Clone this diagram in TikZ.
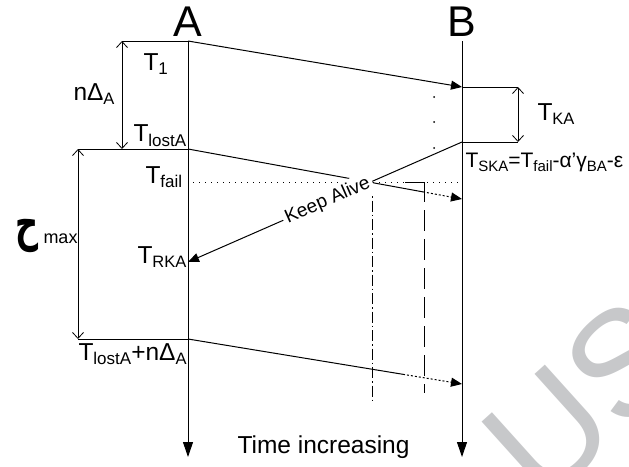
\documentclass[tikz,border=0pt]{standalone}
\usepackage{fontspec}
\setmainfont{Liberation Sans}
\newfontfamily\arabicfont[Script=Arabic]{DejaVu Sans}
\TeXXeTstate=1
\usetikzlibrary{arrows.meta,calc}

% lowered subscript in text mode
\newcommand\lowsub[2][17]{\raisebox{-4.5pt}{\fontsize{#1}{#1}\selectfont #2}}

\definecolor{wmgray}{RGB}{199,200,202}

\begin{document}
\begin{tikzpicture}[x=1pt,y=-1pt,line width=1pt,
  lbl/.style={inner sep=0pt,font=\fontsize{24.5}{24.5}\selectfont},
  msg/.style={-{Triangle[length=11pt,width=9pt]}},
  tail/.style={msg,dash pattern=on 2pt off 2pt},
  dim/.style={{Straight Barb[length=6pt,width=11pt]}-{Straight Barb[length=6pt,width=11pt]},line width=0.8pt},
  timeline/.style={-{Triangle[length=15pt,width=10pt]}},
  failline/.style={line width=0.8pt,dash pattern=on 1pt off 5pt},
  dashdotline/.style={line width=0.9pt,dash pattern=on 11pt off 3pt on 1.5pt off 3pt},
  longdash/.style={line width=0.9pt,dash pattern=on 21pt off 8pt}]
\useasboundingbox (0,0) rectangle (629,466);

% watermark
\begin{scope}
  \clip (0,0) rectangle (629,466);
  \node[wmgray,inner sep=0pt,anchor=base west,rotate=42,
        font=\fontsize{150}{150}\selectfont] (wm) at (542,507) {US};
\end{scope}

% time lines
\coordinate (A1) at (188,41);
\coordinate (A2) at (188,149);
\coordinate (ARKA) at (188,262);
\coordinate (A3) at (188,339);
\coordinate (Aend) at (188,457);
\coordinate (B0) at (462,41);
\coordinate (B1) at (462,87);
\coordinate (BSKA) at (462,142);
\coordinate (B2) at (462,199);
\coordinate (B3) at (462,384);
\coordinate (Bend) at (462,457);

\node[inner sep=0pt,anchor=base,font=\fontsize{43}{43}\selectfont] (labA) at (188,36) {A};
\node[inner sep=0pt,anchor=base,font=\fontsize{43}{43}\selectfont] (labB) at (462,36) {B};

\draw[timeline] (A1) -- (Aend);
\draw[timeline] (B0) -- (Bend);

% dimension marks on the A side
\coordinate (n1) at (122,41);
\coordinate (n2) at (122,149);
\coordinate (z1) at (78,149);
\coordinate (z2) at (78,339);
\draw (n1) -- (A1);
\draw (z1) -- (A2);
\draw (z2) -- (A3);
\draw[dim] (n1) -- (n2);
\draw[dim] (z1) -- (z2);

% dimension mark on the B side
\coordinate (k1) at (518,87);
\coordinate (k2) at (518,142);
\draw (B1) -- (k1);
\draw (BSKA) -- (k2);
\draw[dim] (k1) -- (k2);

% vertical dots between the messages
\foreach \yy [count=\i] in {97,122,148}
  \fill (434,\yy) circle (1pt) coordinate (dot\i);

% failure time
\coordinate (F0) at (193,182);
\coordinate (F1) at (462,182);
\draw[failline] (F0) -- (F1);

% windows
\coordinate (w1) at (372,182);
\coordinate (w1b) at (372,403);
\draw[dashdotline] (w1) -- (w1b);
\coordinate (w2a) at (405,182);
\coordinate (w2c) at (424,202);
\coordinate (w2d) at (424,210);
\coordinate (w2b) at (424,393);
\draw[line width=0.9pt] (w2a) -| (w2c);
\draw[longdash] (w2d) -- (w2b);

% messages
\draw[msg] (A1) -- (B1);
\coordinate (m2) at ($(A2)!0.8577!(B2)$);
\draw (A2) -- (m2);
\draw[tail] (m2) -- (B2);
\coordinate (m3) at ($(A3)!0.7847!(B3)$);
\draw (A3) -- (m3);
\draw[tail] (m3) -- (B3);
\draw[msg] (BSKA) -- node[pos=0.49,sloped,fill=white,inner sep=3pt,
  font=\fontsize{19}{19}\selectfont] (ka) {Keep Alive} (ARKA);

% labels
\node[lbl,anchor=base west] (t1) at (143,70) {T\lowsub[17]{1}};
\node[lbl,anchor=base west] (nd) at (73,100) {nΔ\lowsub[16.5]{A}};
\node[lbl,anchor=base west] (tl) at (133,141.5) {T\lowsub{lostA}};
\node[lbl,anchor=base west] (tf) at (145,183) {T\lowsub{fail}};
\node[lbl,anchor=base west] (tr) at (137,263) {T\lowsub[16.5]{RKA}};
\node[lbl,anchor=base west] (tln) at (78,360) {T\lowsub{lostA}+nΔ\lowsub[16.5]{A}};
\node[lbl,anchor=base west] (tka) at (537,120) {T\lowsub[16.5]{KA}};
\node[inner sep=0pt,anchor=base west,font=\fontsize{21}{21}\selectfont] (tska) at (465,167)
  {T\lowsub[15]{SKA}=T\lowsub[15]{fail}-α’γ\lowsub[15]{BA}-ε};
\node[inner sep=0pt,xscale=0.64,font=\fontsize{50}{50}\selectfont\arabicfont\bfseries] (zeta) at (27,236) {\beginR ح\endR};
\node[inner sep=0pt,anchor=base west,font=\fontsize{18}{18}\selectfont] (zmax) at (43,243) {max};
\node[inner sep=0pt,anchor=base west,font=\fontsize{24.5}{24.5}\selectfont] (time) at (237,453) {Time increasing};
\end{tikzpicture}
\end{document}
